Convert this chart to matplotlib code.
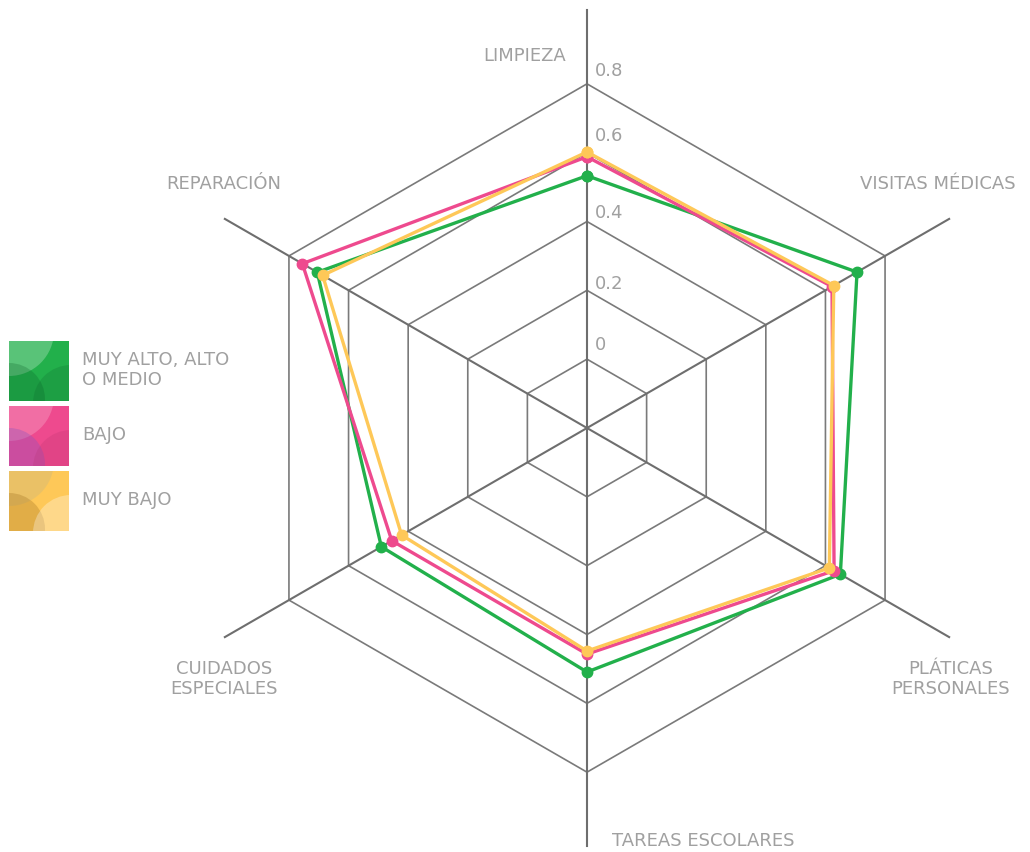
import numpy as np
import matplotlib
matplotlib.use("Agg")
import matplotlib.pyplot as plt
from matplotlib.patches import Rectangle, Circle

# data
categories = ["LIMPIEZA", "VISITAS MÉDICAS", "PLÁTICAS\nPERSONALES",
              "TAREAS ESCOLARES", "CUIDADOS\nESPECIALES", "REPARACIÓN"]
muy_alto = [0.533, 0.706, 0.650, 0.509, 0.490, 0.705]
bajo = [0.588, 0.622, 0.629, 0.457, 0.455, 0.755]
muy_bajo = [0.602, 0.628, 0.613, 0.448, 0.422, 0.687]
series_names = ["MUY ALTO, ALTO\nO MEDIO", "BAJO", "MUY BAJO"]
series_colors = ["#22b04b", "#ee4a8e", "#fec858"]
ring_values = [0, 0.2, 0.4, 0.6, 0.8]
ring_labels = ["0", "0.2", "0.4", "0.6", "0.8"]

W, H = 1030, 852
TXT = "#a0a0a0"
plt.rcParams['font.family'] = ['DejaVu Sans']

fig = plt.figure(figsize=(W / 100, H / 100), dpi=100)


def px(x, y):
    # pixel position (from top-left) -> figure fraction
    return x / W, 1 - y / H


# legend squares with the soft circle pattern
lax = fig.add_axes([0, 0, 1, 1])
lax.set_xlim(0, W)
lax.set_ylim(H, 0)
lax.axis("off")
circ_styles = [
    [("white", 0.25), ("#0a5e28", 0.25), ("#0a5e28", 0.2)],
    [("white", 0.2), ("#8a55c0", 0.35), ("#b0306a", 0.2)],
    [("#b0b090", 0.25), ("#a07020", 0.3), ("white", 0.3)],
]
sq_tops = [341, 406, 471]
for i, (name, col) in enumerate(zip(series_names, series_colors)):
    x0, y0 = 9, sq_tops[i]
    sq = Rectangle((x0, y0), 60, 60, facecolor=col, edgecolor="none")
    lax.add_patch(sq)
    centers = [(x0, y0 - 10, 45), (x0, y0 + 58, 36), (x0 + 62, y0 + 62, 38)]
    for (cx, cy, rr), (cc, aa) in zip(centers, circ_styles[i]):
        c = Circle((cx, cy), rr, facecolor=cc, alpha=aa, edgecolor="none")
        lax.add_patch(c)
        c.set_clip_path(sq)
    lax.text(82, y0 + 29, name, color=TXT, fontsize=13, va="center",
             ha="left", linespacing=1.1)

# radar in polar axes, center at (587, 428) px
R = 413
ax = fig.add_axes([(587 - R) / W, (H - 428 - R) / H, 2 * R / W, 2 * R / H],
                  projection="polar")
ax.set_theta_zero_location("N")
ax.set_theta_direction(-1)
ax.set_ylim(-0.2, 1.0)
ax.grid(False)
ax.set_xticks([])
ax.set_yticks([])
ax.spines["polar"].set_visible(False)
ax.patch.set_alpha(0)

n = len(categories)
theta = np.linspace(0, 2 * np.pi, n, endpoint=False)
theta_c = np.append(theta, theta[0])

for rv in ring_values:
    ax.plot(theta_c, [rv] * (n + 1), color="#7a7a7a", lw=1.2, zorder=1)
for t in theta:
    ax.plot([t, t], [-0.2, 1.015], color="#6e6e6e", lw=1.5, zorder=1,
            clip_on=False)

for vals, col in zip([muy_alto, bajo, muy_bajo], series_colors):
    v = np.append(vals, vals[0])
    ax.plot(theta_c, v, color=col, lw=2.4, marker="o", markersize=7.5,
            zorder=3)

tick_offsets = [14, 6, 9, 17, 13]
for rv, lab, off in zip(ring_values, ring_labels, tick_offsets):
    ax.annotate(lab, xy=(0, rv), xytext=(8, off), textcoords="offset pixels",
                color=TXT, fontsize=13, ha="left", va="center")

label_pos = [(566, 56, "right"), (938, 184, "center"), (951, 679, "center"),
             (703, 841, "center"), (224, 679, "center"), (224, 184, "center")]
for lab, (x, y, ha) in zip(categories, label_pos):
    fx, fy = px(x, y)
    fig.text(fx, fy, lab, color=TXT, fontsize=13, ha=ha, va="center",
             multialignment="center", linespacing=1.1)

fig.savefig("out.png", dpi=100)
